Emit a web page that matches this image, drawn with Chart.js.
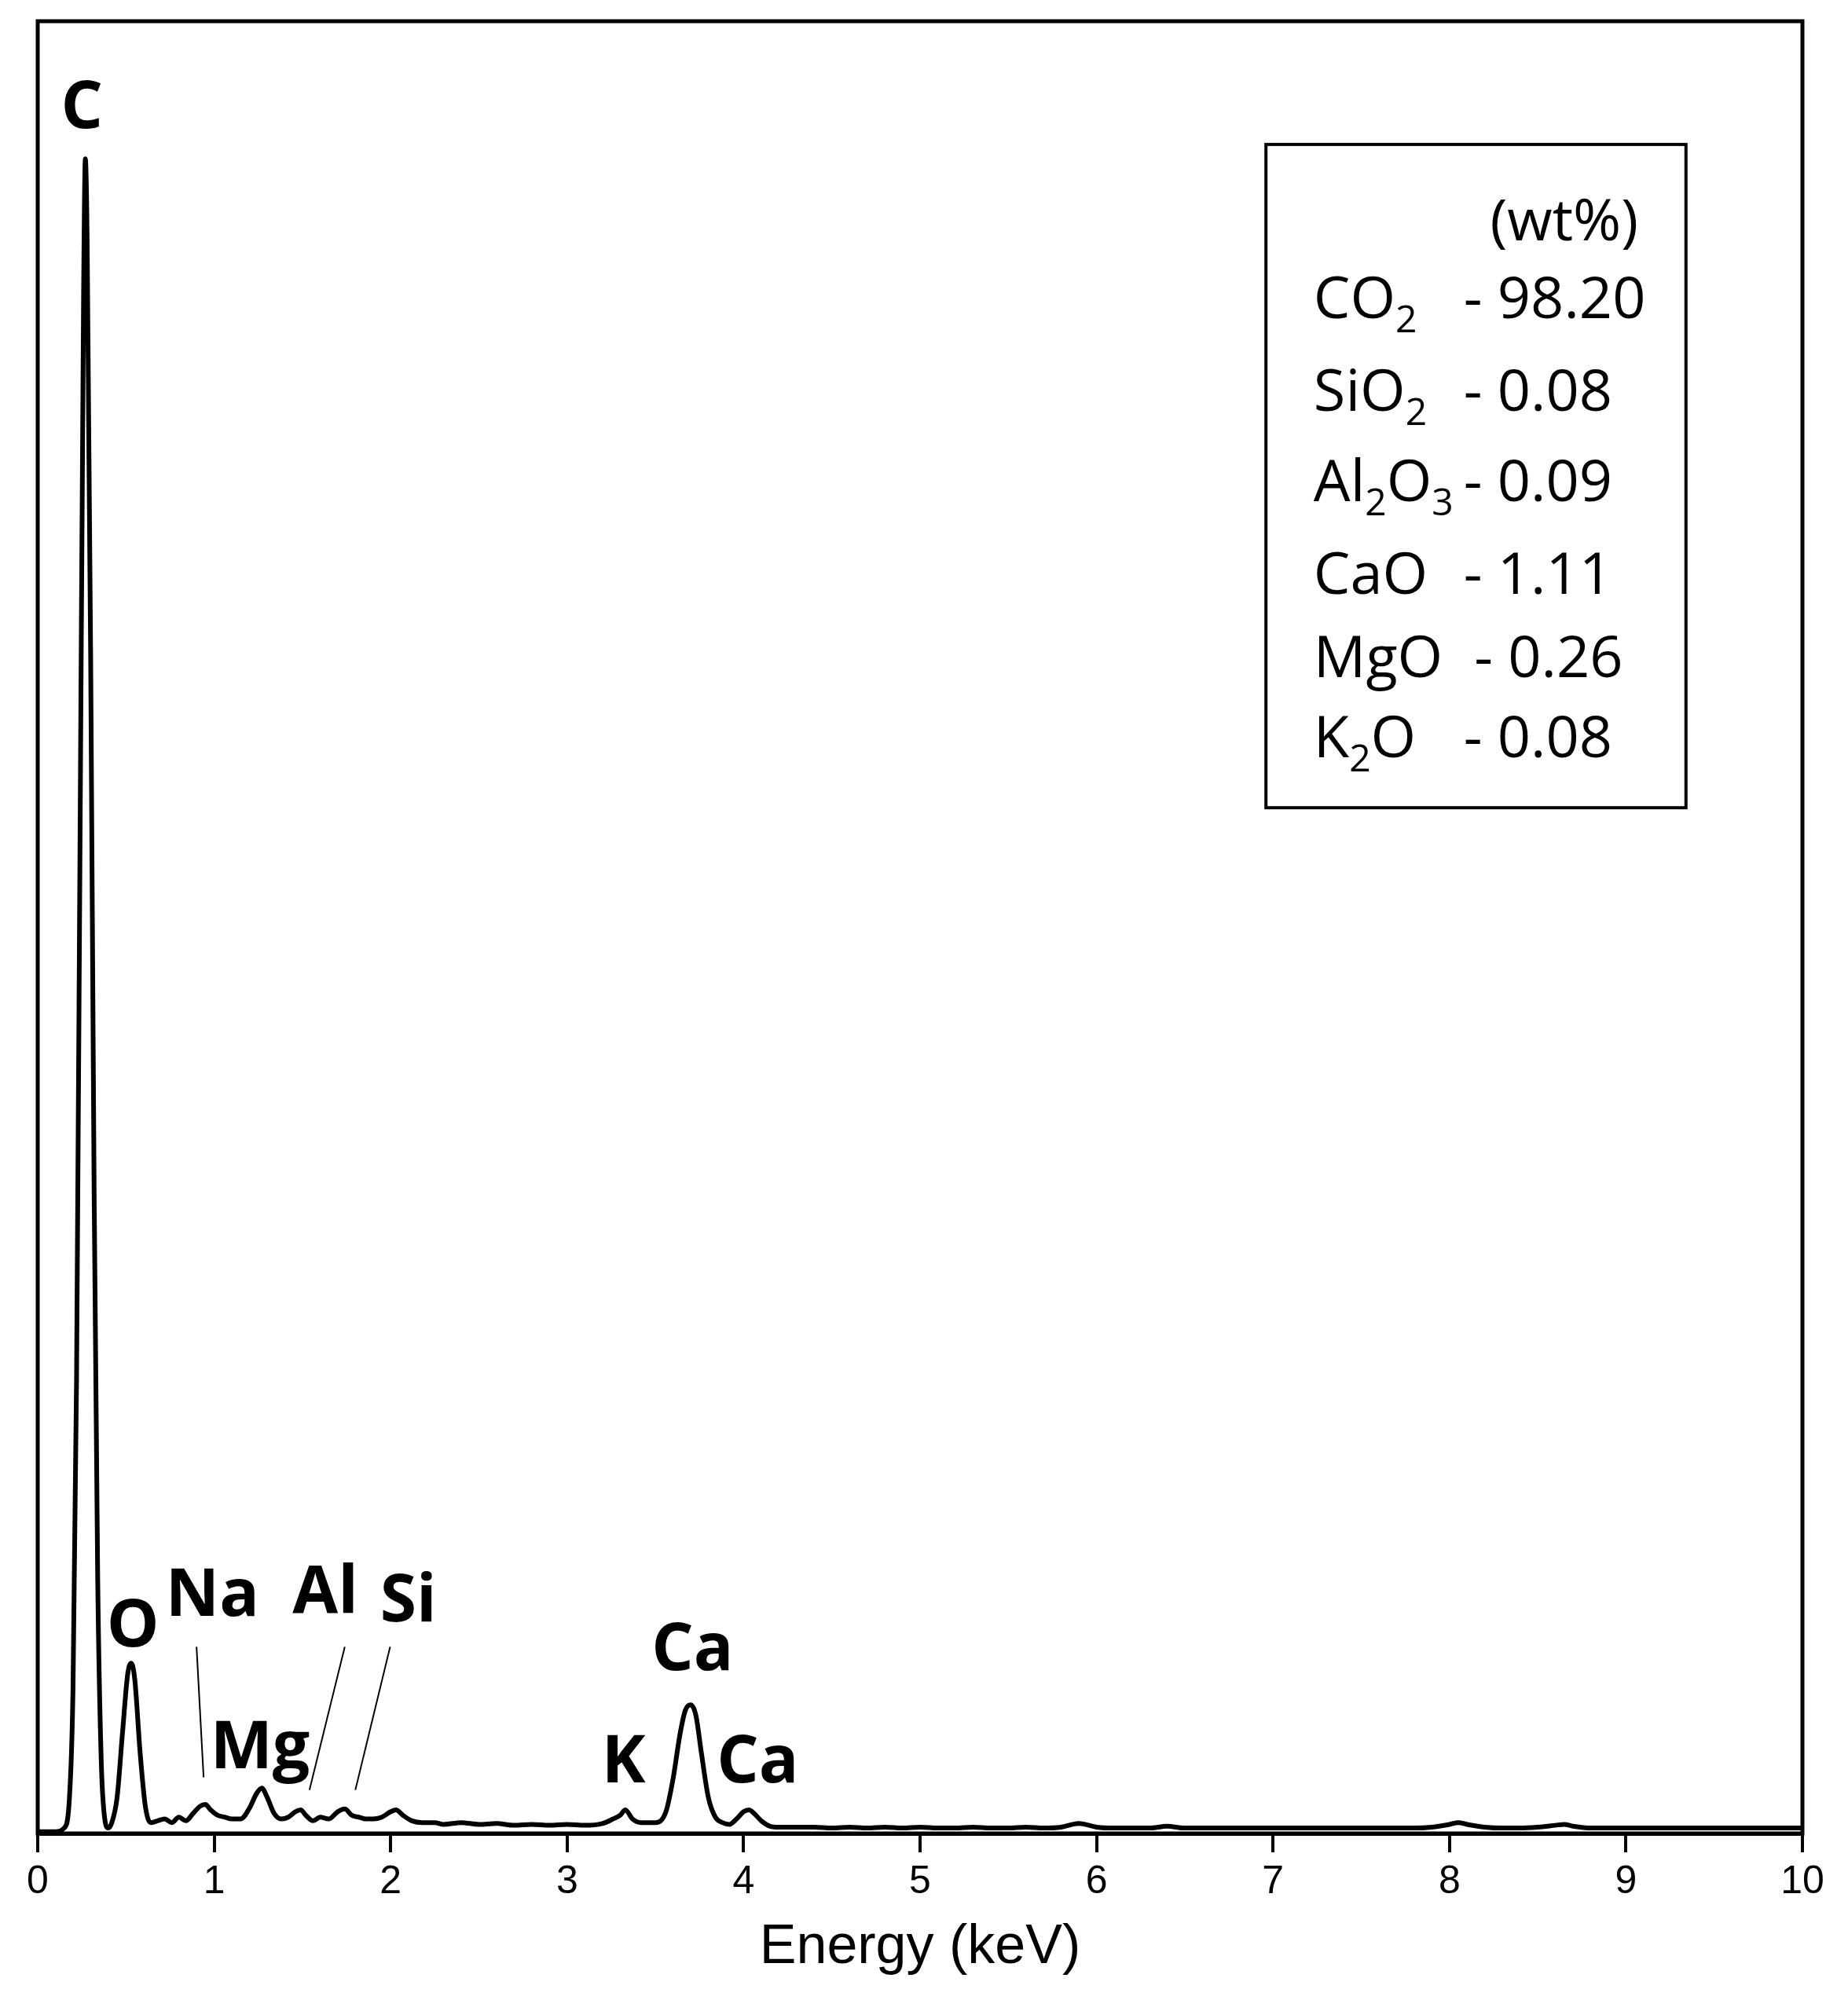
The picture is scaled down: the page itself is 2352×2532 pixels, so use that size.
<!DOCTYPE html>
<html>
<head>
<meta charset="utf-8">
<script src="https://cdn.jsdelivr.net/npm/chart.js@4/dist/chart.umd.min.js"></script>
<style>
  body { margin: 0; background: #fff; }
  #wrap { width: 2352px; height: 2532px; }
</style>
</head>
<body>
<div id="wrap"><canvas id="eds"></canvas></div>
<script>
// spectrum (energy keV / relative counts, % of full scale)
const energy = [0,0.1,0.15,0.18,0.2,0.22,0.24,0.26,0.27,0.28,0.3,0.32,0.34,0.36,0.38,0.4,0.42,0.45,0.48,0.51,0.53,0.55,0.58,0.61,0.64,0.68,0.72,0.76,0.8,0.84,0.88,0.92,0.95,0.98,1.02,1.06,1.1,1.15,1.2,1.24,1.27,1.3,1.34,1.38,1.42,1.46,1.49,1.52,1.56,1.6,1.65,1.7,1.74,1.78,1.82,1.86,1.9,1.95,2.0,2.03,2.07,2.12,2.18,2.25,2.3,2.4,2.5,2.6,2.7,2.8,2.9,3.0,3.1,3.2,3.26,3.3,3.33,3.37,3.42,3.5,3.56,3.6,3.64,3.67,3.7,3.73,3.76,3.8,3.84,3.88,3.92,3.96,4.0,4.03,4.06,4.1,4.15,4.2,4.3,
  4.4,4.5,4.6,4.7,4.8,4.9,5.0,5.1,5.2,5.3,5.4,5.5,5.6,5.7,5.8,5.9,6.0,6.1,6.2,6.3,6.4,6.5,6.6,6.7,6.8,6.9,7.0,7.1,7.2,7.3,7.4,7.5,7.6,7.7,7.8,7.9,8.0,8.05,8.1,8.2,8.3,8.4,8.5,8.6,8.65,8.7,8.8,8.9,9.0,9.1,9.2,9.3,9.4,9.5,9.6,9.7,9.8,9.9,10];
const counts = [0.1,0.1,0.3,2,8,25,55,85,92.4,88,65,35,14,4,0.8,0.3,0.6,2,5.5,8.8,9.4,8.5,4.5,1.5,0.6,0.7,0.8,0.6,0.9,0.7,1.1,1.5,1.6,1.3,1.0,0.9,0.8,0.8,1.4,2.2,2.5,2.0,1.1,0.8,0.9,1.2,1.3,1.0,0.7,0.9,0.8,1.2,1.35,1.0,0.9,0.8,0.8,0.9,1.2,1.3,1.0,0.7,0.6,0.6,0.5,0.6,0.5,0.55,0.45,0.5,0.45,0.5,0.45,0.55,0.8,1.0,1.3,0.8,0.6,0.6,1.2,3.0,5.5,6.8,7.1,6.5,4.5,2.0,0.9,0.6,0.5,0.8,1.2,1.3,1.1,0.7,0.4,0.35,0.35,
  0.35,0.3,0.35,0.3,0.35,0.3,0.35,0.3,0.3,0.35,0.3,0.3,0.35,0.3,0.35,0.55,0.35,0.3,0.3,0.3,0.4,0.3,0.3,0.3,0.3,0.3,0.3,0.3,0.3,0.3,0.3,0.3,0.3,0.3,0.3,0.35,0.5,0.6,0.5,0.35,0.3,0.3,0.35,0.45,0.5,0.4,0.3,0.3,0.3,0.3,0.3,0.3,0.3,0.3,0.3,0.3,0.3,0.3,0.3];
const xTicks = [0,1,2,3,4,5,6,7,8,9,10];

// peak labels: text, energy, height of text baseline
const peakNames = ['C','O','Na','Al','Si','Mg','Ca','K','Ca'];
const peakX =     [0.25,0.54,0.99,1.63,2.10,1.26,3.71,3.32,4.08];
const peakY =     [94.1,10.3,12.0,12.2,11.7,3.6,9.0,2.8,2.8];
// leader lines [x1,y1,x2,y2]
const leaders = [[0.90,10.3,0.94,3.1],[1.74,10.3,1.54,2.4],[1.997,10.3,1.80,2.4]];

// composition box
const oxides = [['CO','2',''],['SiO','2',''],['Al','2','O','3'],['CaO'],['MgO'],['K','2','O']];
const wtPct = ['- 98.20','- 0.08','- 0.09','- 1.11','- 0.26','- 0.08'];

const overlay = {
  id: 'overlay',
  afterDraw(chart) {
    const c = chart.ctx, xs = chart.scales.x, ys = chart.scales.y, a = chart.chartArea;
    c.save();
    c.strokeStyle = '#000';
    c.lineWidth = 5;
    c.strokeRect(a.left, a.top, a.right - a.left, a.bottom - a.top);

    c.fillStyle = '#000';
    c.textAlign = 'center';
    c.textBaseline = 'alphabetic';
    c.font = 'bold 84px "Open Sans"';
    peakNames.forEach((t, i) => c.fillText(t, xs.getPixelForValue(peakX[i]), ys.getPixelForValue(peakY[i])));

    c.lineWidth = 2;
    leaders.forEach(l => {
      c.beginPath();
      c.moveTo(xs.getPixelForValue(l[0]), ys.getPixelForValue(l[1]));
      c.lineTo(xs.getPixelForValue(l[2]), ys.getPixelForValue(l[3]));
      c.stroke();
    });

    // box
    const bx1 = xs.getPixelForValue(6.96), bx2 = xs.getPixelForValue(9.34);
    const by1 = ys.getPixelForValue(93.2), by2 = ys.getPixelForValue(56.6);
    c.lineWidth = 4;
    c.strokeRect(bx1, by1, bx2 - bx1, by2 - by1);

    c.textAlign = 'left';
    c.font = '74px "Open Sans"';
    c.fillText('(wt%)', xs.getPixelForValue(8.23), ys.getPixelForValue(87.9));
    const rows = [87.9 - 4.3, 78.5, 73.5, 68.4, 63.8, 59.4];
    oxides.forEach((parts, i) => {
      let x = xs.getPixelForValue(7.23);
      const y = ys.getPixelForValue(rows[i]);
      parts.forEach((p, j) => {
        const sub = j % 2 === 1;
        c.font = sub ? '48px "Open Sans"' : '74px "Open Sans"';
        c.fillText(p, x, sub ? y + 18 : y);
        x += c.measureText(p).width;
      });
      c.font = '74px "Open Sans"';
      c.fillText(wtPct[i], xs.getPixelForValue(i === 4 ? 8.14 : 8.08), y);
    });
    c.restore();
  }
};

new Chart(document.getElementById('eds'), {
  type: 'line',
  data: {
    labels: energy,
    datasets: [{
      data: energy.map((e, i) => ({ x: e, y: counts[i] })),
      borderColor: '#000',
      borderWidth: 6,
      pointRadius: 0,
      cubicInterpolationMode: 'monotone',
      fill: false
    }]
  },
  options: {
    responsive: true,
    maintainAspectRatio: false,
    devicePixelRatio: 1,
    animation: false,
    layout: { padding: { left: 48, right: 58, top: 27, bottom: 10 } },
    plugins: { legend: { display: false }, tooltip: { enabled: false } },
    scales: {
      x: {
        type: 'linear', min: 0, max: 10,
        afterBuildTicks: ax => { ax.ticks = xTicks.map(v => ({ value: v })); },
        grid: { drawOnChartArea: false, drawTicks: true, tickLength: 24, color: '#000', lineWidth: 4 },
        border: { color: '#000', width: 5 },
        ticks: { color: '#000', font: { family: '"Liberation Sans"', size: 50 }, padding: 8, maxRotation: 0 },
        title: { display: true, text: 'Energy (keV)', color: '#000', font: { family: '"Liberation Sans"', size: 70 }, padding: { top: 4, bottom: 0 } }
      },
      y: { display: false, min: 0, max: 100 }
    }
  },
  plugins: [overlay]
});
</script>
</body>
</html>
